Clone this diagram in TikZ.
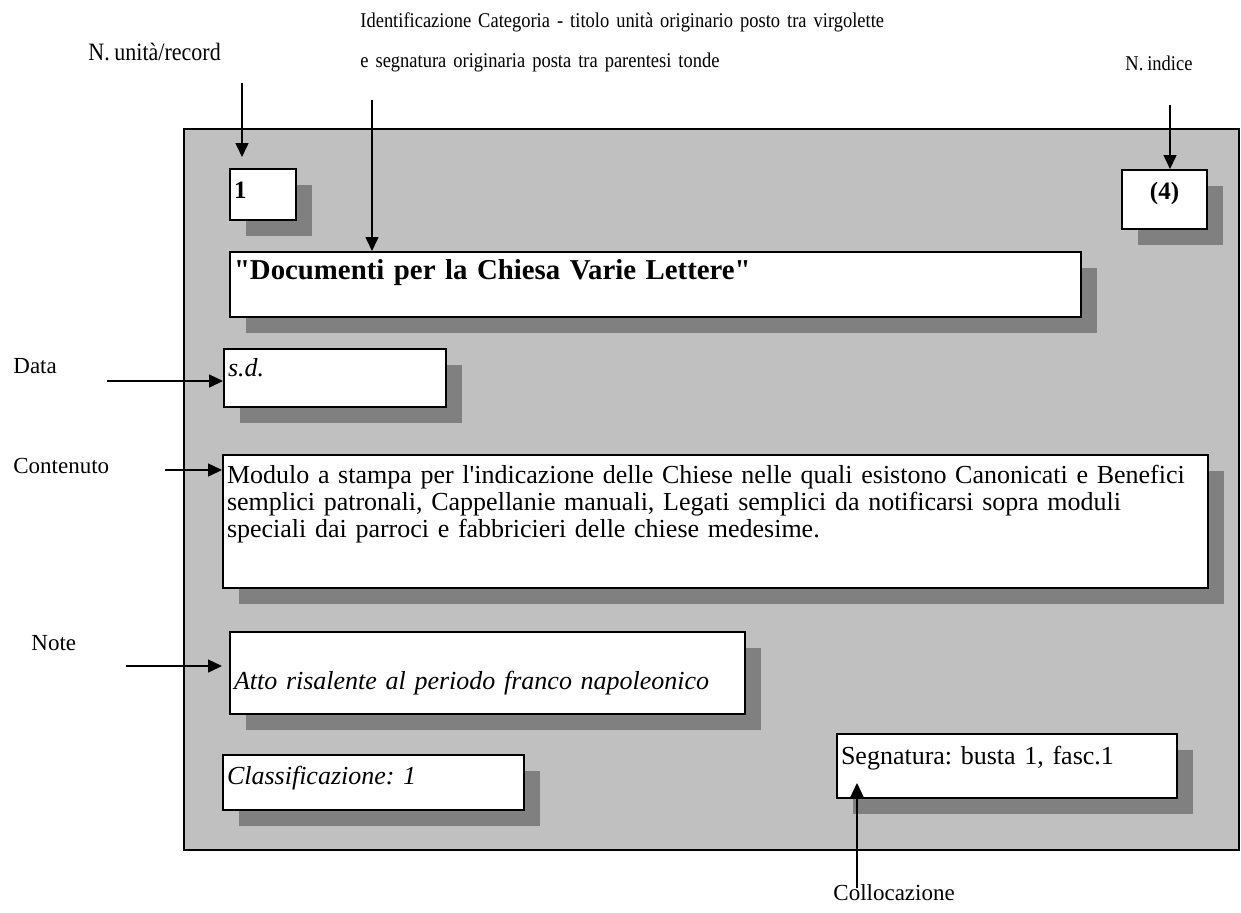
\documentclass[tikz,border=0pt]{standalone}
\usepackage{fontspec}
\setmainfont{Liberation Serif}[Ligatures=TeXOff]
\newfontfamily\narrowserif{Liberation Serif}[Ligatures=TeXOff,FakeStretch=0.88,WordSpace=0.85]
\usetikzlibrary{arrows.meta,shadows}
\definecolor{panelgrey}{RGB}{192,192,192}
\definecolor{shadowgrey}{RGB}{128,128,128}
\frenchspacing
\tikzset{
 panel/.style={fill=panelgrey,draw=black,line width=0.8pt},
 field/.style={draw=black,fill=white,line width=1pt,anchor=north west,inner ysep=0pt,inner xsep=2pt,align=left,
   font=\fontsize{13}{13.5}\selectfont,general shadow={fill=shadowgrey,shadow xshift=8pt,shadow yshift=-8pt}},
 tag/.style={anchor=base west,inner sep=0pt,font=\fontsize{11.5}{12}\selectfont},
 pointer/.style={-{Triangle[length=7pt,width=6.5pt]},line width=0.75pt},
}
\begin{document}
\begin{tikzpicture}[x=0.5pt,y=-0.5pt]
 \useasboundingbox (0,0) rectangle (1241,912);
 \filldraw[panel] (184,129) rectangle (1239,850);
 % schede
 \node[field,font=\bfseries\fontsize{12.5}{13.5}\selectfont,text width=29pt,text height=14.5pt,text depth=11pt] (num) at (229,168) {1};
 \node[field,font=\bfseries\fontsize{12.5}{13.5}\selectfont,align=center,text width=38.5pt,text height=14.5pt,text depth=15pt] (idx) at (1121,169) {(4)};
 \node[field,font=\bfseries\fontsize{14.4}{15}\selectfont,text width=421.5pt,text height=13.5pt,text depth=19pt] (title) at (229,251) {"Documenti per la Chiesa Varie Lettere"};
 \node[field,font=\itshape\fontsize{13}{13.5}\selectfont,text width=107pt,text height=13.5pt,text depth=15.5pt] (date) at (223,348) {s.d.};
 \node[field,text width=488.5pt,text height=14pt,text depth=52.5pt] (content) at (222,454)
  {Modulo a stampa per l'indicazione delle Chiese nelle quali esistono Canonicati e Benefici\\
   semplici patronali, Cappellanie manuali, Legati semplici da notificarsi sopra moduli\\
   speciali dai parroci e fabbricieri delle chiese medesime.};
 \node[field,font=\itshape\fontsize{13}{13.5}\selectfont,text width=253.5pt,text height=28.5pt,text depth=12.5pt] (note) at (229,631) {Atto risalente al periodo franco napoleonico};
 \node[field,font=\itshape\fontsize{13}{13.5}\selectfont,text width=146.5pt,text height=14.5pt,text depth=13pt] (class) at (222,754) {Classificazione: 1};
 \node[field,text width=166pt,text height=15pt,text depth=17pt] (sign) at (836,733) {Segnatura: busta 1, fasc.1};
 % didascalie
 \node[tag,font=\narrowserif\fontsize{12.5}{12}\selectfont] (unitlab) at (88,60) {N. unità/record};
 \node[tag,text width=300pt,align=left,font=\narrowserif\fontsize{10.5}{20}\selectfont] (catlab) at (360,27)
  {Identificazione Categoria - titolo unità originario posto tra virgolette\\
   e segnatura originaria posta tra parentesi tonde};
 \node[tag,font=\narrowserif\fontsize{10.5}{12}\selectfont] (idxlab) at (1125,70) {N. indice};
 \node[tag] (datelab) at (13,373) {Data};
 \node[tag] (contlab) at (13,473) {Contenuto};
 \node[tag] (notelab) at (31,650) {Note};
 \node[tag] (colllab) at (833,900) {Collocazione};
 % frecce
 \coordinate (unitfrom) at (242,83);
 \coordinate (catfrom) at (372,100);
 \coordinate (idxfrom) at (1170,105);
 \coordinate (datefrom) at (107,381);
 \coordinate (contfrom) at (165,470);
 \coordinate (notefrom) at (126,666);
 \coordinate (collfrom) at (857,888);
 \draw[pointer,shorten >=5.5pt] (unitfrom) -- (unitfrom |- num.north);
 \draw[pointer] (catfrom) -- (catfrom |- title.north);
 \draw[pointer] (idxfrom) -- (idxfrom |- idx.north);
 \draw[pointer] (datefrom) -- (datefrom -| date.west);
 \draw[pointer] (contfrom) -- (contfrom -| content.west);
 \draw[pointer,shorten >=3.5pt] (notefrom) -- (notefrom -| note.west);
 \draw[pointer,shorten >=-8pt] (collfrom) -- (collfrom |- sign.south);
\end{tikzpicture}
\end{document}
